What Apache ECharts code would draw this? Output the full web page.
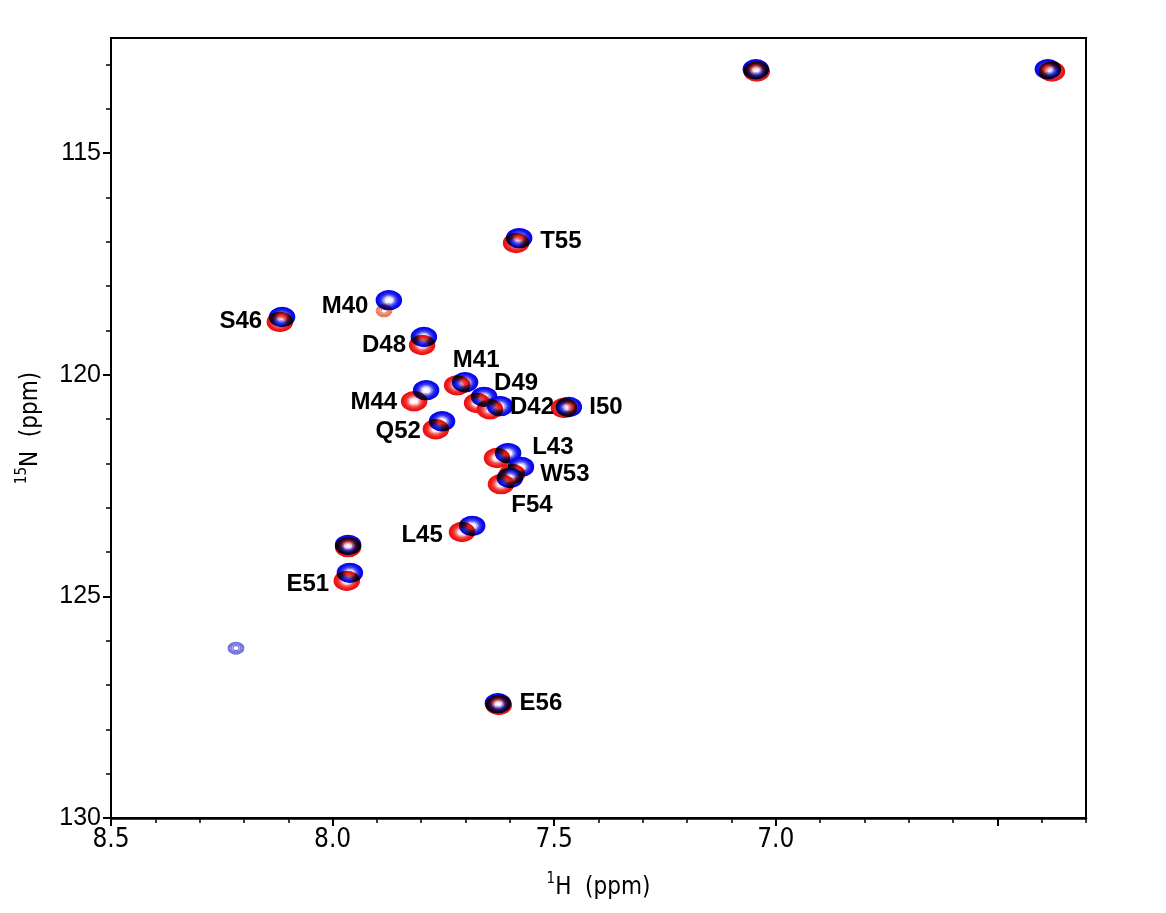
<!DOCTYPE html>
<html><head><meta charset="utf-8">
<script src="https://cdn.jsdelivr.net/npm/echarts@6/dist/echarts.min.js"></script>
<style>
html,body{margin:0;padding:0;background:#fff}
#c{width:1166px;height:913px}
#c canvas[data-zr-dom-id="zr_1"]{mix-blend-mode:multiply}
</style>
</head><body><div id="c"></div>
<script>
// ---- data (ppm) ----
const blueH = [7.045, 6.386, 7.579, 7.873, 8.114, 7.794, 7.701, 7.658, 7.622, 7.467, 7.789, 7.753, 7.604, 7.575, 7.600, 7.685, 7.965, 7.961, 8.218, 7.627];
const blueN = [113.11, 113.11, 116.92, 118.32, 118.70, 119.15, 120.17, 120.50, 120.71, 120.73, 120.35, 121.05, 121.77, 122.08, 122.33, 123.41, 123.84, 124.47, 126.17, 127.41];
const blueI = [1, 1, 1, 1, 1, 1, 1, 1, 1, 1, 1, 1, 1, 1, 1, 1, 1, 1, 0.1, 1];

const redH = [7.043, 6.377, 7.586, 7.884, 8.119, 7.798, 7.719, 7.674, 7.645, 7.478, 7.816, 7.767, 7.629, 7.595, 7.620, 7.708, 7.965, 7.968, 7.625];
const redN = [113.16, 113.16, 117.03, 118.56, 118.81, 119.33, 120.24, 120.64, 120.78, 120.75, 120.60, 121.23, 121.88, 122.24, 122.47, 123.55, 123.89, 124.65, 127.45];
const redI = [1, 1, 1, 0.1, 1, 1, 1, 1, 1, 1, 1, 1, 1, 1, 1, 1, 1, 1, 1];

const labelNames = ['T55', 'M40', 'S46', 'D48', 'M41', 'D49', 'D42', 'I50', 'M44', 'Q52', 'L43', 'W53', 'F54', 'L45', 'E51', 'E56'];
const labelH = [7.485, 7.972, 8.207, 7.884, 7.676, 7.586, 7.550, 7.383, 7.907, 7.852, 7.503, 7.476, 7.550, 7.798, 8.056, 7.530];
const labelN = [116.99, 118.47, 118.79, 119.33, 119.67, 120.19, 120.73, 120.73, 120.62, 121.29, 121.65, 122.24, 122.94, 123.62, 124.72, 127.41];

const xMajorTicks = [8.5, 8.0, 7.5, 7.0, 6.5];
const xTickLabels = [8.5, 8.0, 7.5, 7.0];
const yTickLabels = [115, 120, 125, 130];
const xMinorTicks = [];
for (let k = 63; k <= 85; k++) xMinorTicks.push(k / 10);
const yMinorTicks = [];
for (let k = 113; k <= 130; k++) yMinorTicks.push(k);

// ---- styling ----
const FONT = "'Liberation Sans', Arial, sans-serif";
const NARROW = "'Liberation Sans Narrow', 'DejaVu Sans Condensed', 'Liberation Sans', sans-serif";
const C0 = 0.02, Q = 1.4, SX = 4.4, SY = 3.3;
const NLEV = Math.floor(Math.log(1 / C0) / Math.log(Q)) + 1;

function mix(a, b, t) {
  return 'rgb(' + a.map((v, k) => Math.round(v + (b[k] - v) * t)).join(',') + ')';
}

function peakSeries(name, hs, ns, amps, dark, light, faint, zlevel) {
  return {
    type: 'custom', name: name, xAxisIndex: 0, yAxisIndex: 0, clip: true, silent: true, zlevel: zlevel,
    data: hs.map((h, i) => [h, ns[i], amps[i]]),
    renderItem: function (params, api) {
      const c = api.coord([api.value(0), api.value(1)]);
      const A = api.value(2);
      const weak = A < 0.5;
      const children = [];
      for (let i = 0; ; i++) {
        const lev = C0 * Math.pow(Q, i);
        if (lev >= A) break;
        const f = Math.sqrt(2 * Math.log(A / lev));
        const t = Math.pow(Math.min(1, i / (NLEV - 1)), 3.5);
        children.push({
          type: 'ellipse',
          shape: { cx: c[0], cy: c[1], rx: SX * f, ry: SY * f },
          style: {
            fill: 'none',
            stroke: weak ? faint : mix(dark, light, t),
            lineWidth: weak ? 1.1 : (i < NLEV - 4 ? 1.9 : 1.1)
          }
        });
      }
      return { type: 'group', children: children };
    }
  };
}

const chart = echarts.init(document.getElementById('c'), null, { renderer: 'canvas' });
const supRich = {
  sup: { fontSize: 15, fontFamily: NARROW, color: '#000', verticalAlign: 'top' },
  txt: { fontSize: 24, fontFamily: NARROW, color: '#000', lineHeight: 28, verticalAlign: 'bottom' }
};

chart.setOption({
  animation: false,
  backgroundColor: '#fff',
  grid: { left: 111, right: 80, top: 38, bottom: 95, show: true, borderColor: '#000', borderWidth: 2, containLabel: false, outerBoundsMode: 'none' },
  xAxis: [
    {
      type: 'value', position: 'bottom', inverse: true, min: 6.3, max: 8.5,
      axisLine: { onZero: false, lineStyle: { color: '#000', width: 2.5 } },
      axisTick: { show: true, customValues: xMajorTicks, length: 8, lineStyle: { color: '#000', width: 2 } },
      axisLabel: { customValues: xTickLabels, formatter: v => Number(v).toFixed(1), fontFamily: NARROW, fontSize: 26, color: '#000', margin: 9 },
      splitLine: { show: false },
      name: '{sup|1}{txt|H  (ppm)}', nameLocation: 'middle', nameGap: 54,
      nameTextStyle: { rich: supRich }
    },
    {
      type: 'value', position: 'bottom', inverse: true, min: 6.3, max: 8.5,
      axisLine: { show: false, onZero: false },
      axisTick: { show: true, customValues: xMinorTicks, length: 5, lineStyle: { color: '#000', width: 1.5 } },
      axisLabel: { show: false }, splitLine: { show: false }
    }
  ],
  yAxis: [
    {
      type: 'value', position: 'left', inverse: true, min: 112.406, max: 130,
      axisLine: { onZero: false, lineStyle: { color: '#000', width: 2 } },
      axisTick: { show: true, customValues: yTickLabels, length: 8, lineStyle: { color: '#000', width: 2 } },
      axisLabel: { customValues: yTickLabels, formatter: v => String(v), fontFamily: FONT, fontSize: 25, color: '#000', margin: 10 },
      splitLine: { show: false },
      name: '{sup|15}{txt|N  (ppm)}', nameLocation: 'middle', nameGap: 68, nameRotate: 90,
      nameTextStyle: { rich: supRich }
    },
    {
      type: 'value', position: 'left', inverse: true, min: 112.406, max: 130,
      axisLine: { show: false, onZero: false },
      axisTick: { show: true, customValues: yMinorTicks, length: 5, lineStyle: { color: '#000', width: 1.5 } },
      axisLabel: { show: false }, splitLine: { show: false }
    }
  ],
  series: [
    peakSeries('red', redH, redN, redI, [238, 20, 20], [255, 235, 235], 'rgb(235,120,90)', 0),
    peakSeries('blue', blueH, blueN, blueI, [10, 10, 235], [235, 235, 255], 'rgb(110,110,215)', 1),
    {
      type: 'custom', name: 'labels', xAxisIndex: 0, yAxisIndex: 0, silent: true, zlevel: 2,
      data: labelH.map((h, i) => [h, labelN[i], labelNames[i]]),
      renderItem: function (params, api) {
        const c = api.coord([api.value(0), api.value(1)]);
        return {
          type: 'text',
          style: { x: c[0], y: c[1], text: labelNames[params.dataIndex], fill: '#000', font: 'bold 24px ' + FONT, align: 'center', verticalAlign: 'middle' }
        };
      }
    }
  ]
});
</script></body></html>
